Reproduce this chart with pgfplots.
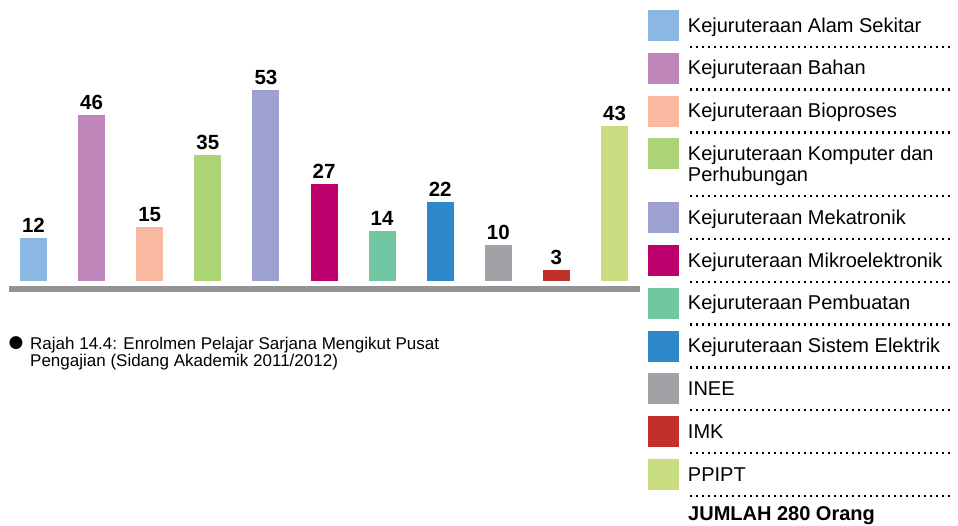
\documentclass[border=0pt]{standalone}
\usepackage{fontspec}
\setmainfont{Liberation Sans}
\newfontfamily\dejavu{DejaVu Sans}
\usepackage{pgfplots}
\pgfplotsset{compat=1.18}

\definecolor{c1}{HTML}{8AB8E2}
\definecolor{c2}{HTML}{BF86BA}
\definecolor{c3}{HTML}{F9B9A0}
\definecolor{c4}{HTML}{ACD376}
\definecolor{c5}{HTML}{9CA1CF}
\definecolor{c6}{HTML}{BB006B}
\definecolor{c7}{HTML}{72C6A2}
\definecolor{c8}{HTML}{2C88C8}
\definecolor{c9}{HTML}{A1A2A6}
\definecolor{c10}{HTML}{C1302A}
\definecolor{c11}{HTML}{C7DD80}
\definecolor{basegray}{HTML}{939393}

% dotted separator under each legend row
\newcommand\dotline{\hbox to 267pt{\leaders\hbox to 6pt{\hss\rule{2.4pt}{2.4pt}\hss}\hfill}}
\newcommand\lgd[2][16pt]{\makebox[0pt][l]{\raisebox{-#1}[0pt][0pt]{\dotline}}#2}

\pgfplotsset{
  mybar/.style={fill=#1, draw=none, bar shift=0pt,
    legend image code/.code={\fill[fill=#1] (0pt,-9pt) rectangle (31pt,22pt);}},
}

\begin{document}
\begin{tikzpicture}
\useasboundingbox (0,0) rectangle (958pt,-526pt);
\begin{axis}[
  at={(33.5pt,-281pt)}, anchor=origin,
  x=58.1pt, y=3.6pt,
  xmin=-0.42, xmax=10.44, ymin=-2.2, ymax=60,
  axis x line=bottom, axis y line=none,
  x axis line style={-, line width=6pt, draw=basegray},
  xtick=\empty, ytick=\empty,
  ybar, bar width=27pt,
  clip=false,
  /pgf/number format/assume math mode=true,
  nodes near coords,
  nodes near coords style={font=\bfseries\fontsize{20.5}{20}\selectfont, anchor=south, inner sep=0pt, yshift=5pt, text=black},
  legend style={at={(axis description cs:1.0125,1.250)}, anchor=north west,
    draw=none, fill=none, inner sep=0pt, outer sep=0pt,
    row sep=0pt, column sep=9pt,
    font=\fontsize{20}{21}\selectfont,
    cells={anchor=base west},
    nodes={inner sep=0pt, text height=23pt, text depth=19.8pt}},
]
\addplot[mybar=c1] coordinates {(0,12)};
\addlegendentry{\lgd{Kejuruteraan Alam Sekitar}}
\addplot[mybar=c2] coordinates {(1,46)};
\addlegendentry{\lgd{Kejuruteraan Bahan}}
\addplot[mybar=c3] coordinates {(2,15)};
\addlegendentry{\lgd{Kejuruteraan Bioproses}}
\addplot[mybar=c4] coordinates {(3,35)};
\addlegendentry[text depth=40.8pt]{\lgd[37pt]{\parbox[t]{262pt}{Kejuruteraan Komputer dan\\Perhubungan}}}
\addplot[mybar=c5] coordinates {(4,53)};
\addlegendentry{\lgd{Kejuruteraan Mekatronik}}
\addplot[mybar=c6] coordinates {(5,27)};
\addlegendentry{\lgd{Kejuruteraan Mikroelektronik}}
\addplot[mybar=c7] coordinates {(6,14)};
\addlegendentry{\lgd{Kejuruteraan Pembuatan}}
\addplot[mybar=c8] coordinates {(7,22)};
\addlegendentry{\lgd{Kejuruteraan Sistem Elektrik}}
\addplot[mybar=c9] coordinates {(8,10)};
\addlegendentry{\lgd{INEE}}
\addplot[mybar=c10] coordinates {(9,3)};
\addlegendentry{\lgd{IMK}}
\addplot[mybar=c11] coordinates {(10,43)};
\addlegendentry{\lgd{PPIPT}}
\end{axis}

\node[anchor=base west, inner sep=0pt, font=\bfseries\fontsize{20}{20}\selectfont] at (688pt,-520pt) {JUMLAH 280 Orang};

\node[inner sep=0pt, font=\dejavu\fontsize{17}{17}\selectfont] at (16pt,-343.5pt) {●};
\node[anchor=base west, inner sep=0pt, font=\fontsize{17}{17}\selectfont] at (30pt,-350pt)
  {\parbox[t]{460pt}{Rajah 14.4: Enrolmen Pelajar Sarjana Mengikut Pusat\\Pengajian (Sidang Akademik 2011/2012)}};
\end{tikzpicture}
\end{document}
